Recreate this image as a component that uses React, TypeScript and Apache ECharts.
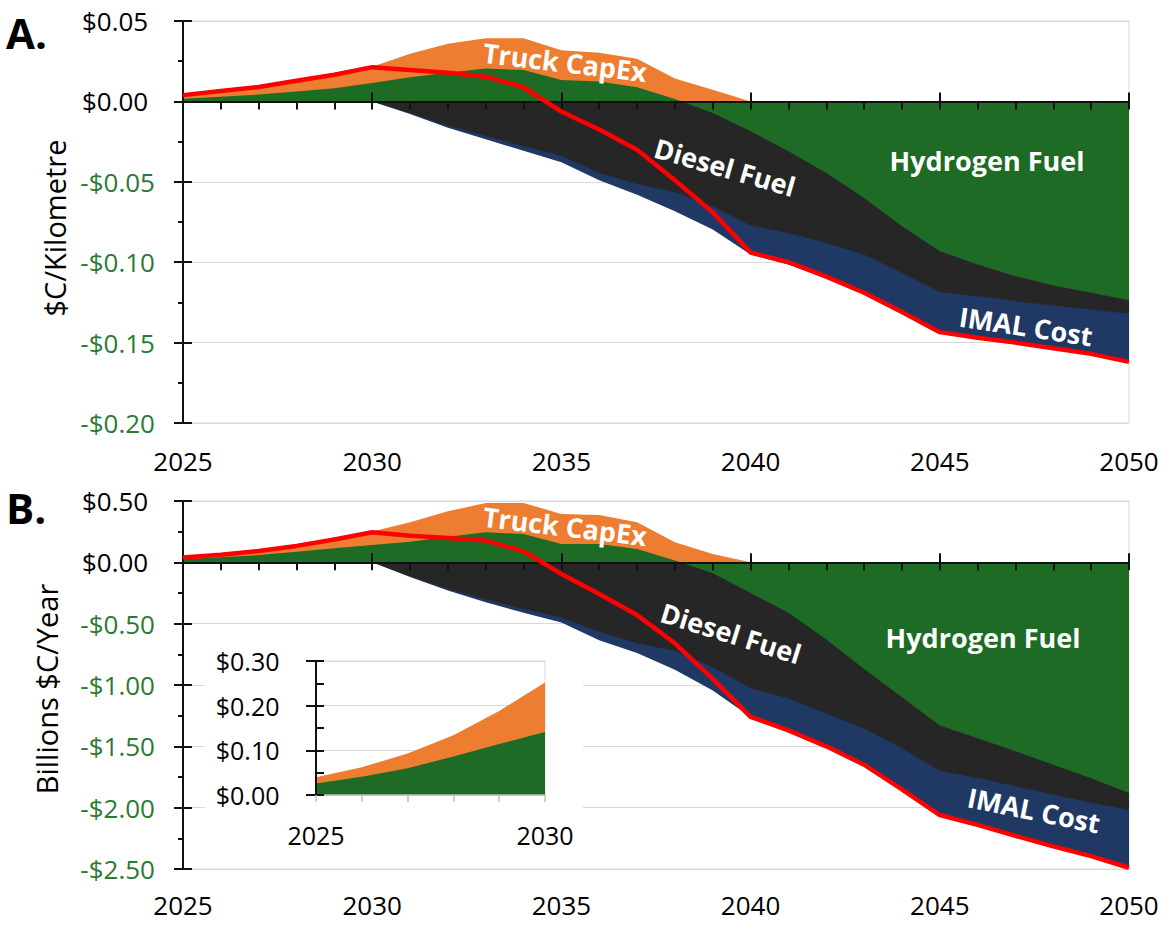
import React, { useEffect, useRef } from "react";
import * as echarts from "echarts";

// ---------- data ----------
const years = [2025, 2026, 2027, 2028, 2029, 2030, 2031, 2032, 2033, 2034, 2035, 2036, 2037, 2038, 2039, 2040, 2041, 2042, 2043, 2044, 2045, 2046, 2047, 2048, 2049, 2050];

// Panel A ($C/Kilometre) — band edges as seen in the chart
const capexA = [0.0039, 0.0064, 0.009, 0.0129, 0.0166, 0.0216, 0.0297, 0.0359, 0.0393, 0.0393, 0.0318, 0.0303, 0.0266, 0.0143, 0.0072, 0, 0, 0, 0, 0, 0, 0, 0, 0, 0, 0];
const hydrogenA = [0.0016, 0.0029, 0.0043, 0.0061, 0.0082, 0.0114, 0.015, 0.0178, 0.0205, 0.0195, 0.0133, 0.0123, 0.0088, 0.0015, -0.0072, -0.0186, -0.031, -0.0445, -0.06, -0.0776, -0.0932, -0.1014, -0.1087, -0.1145, -0.119, -0.1236];
const dieselA = [0, 0, 0, 0, 0, 0, -0.0072, -0.015, -0.0215, -0.0277, -0.0338, -0.0445, -0.0513, -0.0565, -0.0652, -0.0772, -0.0818, -0.088, -0.0952, -0.1066, -0.1186, -0.1211, -0.1242, -0.1269, -0.1294, -0.132];
const imalA = [0, 0, 0, 0, 0, 0, -0.0078, -0.0164, -0.0236, -0.0307, -0.0379, -0.049, -0.058, -0.0683, -0.0797, -0.0952, -0.1014, -0.11, -0.12, -0.1315, -0.1439, -0.148, -0.151, -0.1542, -0.1574, -0.1615];
const netA = [0.0039, 0.0064, 0.009, 0.0129, 0.0166, 0.0213, 0.0195, 0.0178, 0.0154, 0.0088, -0.0063, -0.0175, -0.03, -0.049, -0.069, -0.094, -0.1, -0.109, -0.119, -0.131, -0.1435, -0.147, -0.15, -0.1535, -0.157, -0.162];

// Panel B (Billions $C/Year)
const capexB = [0.04, 0.062, 0.093, 0.134, 0.188, 0.252, 0.326, 0.416, 0.484, 0.484, 0.394, 0.386, 0.326, 0.163, 0.068, 0, 0, 0, 0, 0, 0, 0, 0, 0, 0, 0];
const hydrogenB = [0.026, 0.041, 0.06, 0.086, 0.114, 0.141, 0.168, 0.209, 0.245, 0.231, 0.149, 0.149, 0.109, 0.014, -0.089, -0.25, -0.41, -0.63, -0.87, -1.1, -1.33, -1.435, -1.54, -1.65, -1.76, -1.88];
const dieselB = [0, 0, 0, 0, 0, 0, -0.114, -0.217, -0.3, -0.38, -0.45, -0.565, -0.66, -0.72, -0.856, -1.026, -1.11, -1.233, -1.354, -1.516, -1.7, -1.758, -1.826, -1.893, -1.96, -2.02];
const imalB = [0, 0, 0, 0, 0, 0, -0.12, -0.23, -0.326, -0.41, -0.49, -0.635, -0.74, -0.875, -1.045, -1.26, -1.368, -1.5, -1.65, -1.85, -2.054, -2.135, -2.224, -2.31, -2.39, -2.48];
const netB = [0.04, 0.062, 0.093, 0.134, 0.186, 0.245, 0.217, 0.198, 0.177, 0.09, -0.095, -0.258, -0.43, -0.66, -0.95, -1.26, -1.37, -1.5, -1.65, -1.85, -2.06, -2.14, -2.23, -2.315, -2.395, -2.49];

// Inset (first years of panel B)
const insetYears = years.slice(0, 6);
const insetCapex = capexB.slice(0, 6);
const insetHydrogen = hydrogenB.slice(0, 6);

// ---------- styling ----------
const COL = {
  orange: "#ED7D31",
  green: "#1D6B25",
  black: "#262626",
  navy: "#1F3864",
  red: "#FF0000",
  grid: "#D9D9D9",
  negLabel: "#2B7A34",
  axis: "#111111",
};
const FONT = '"Open Sans", "Noto Sans", sans-serif';

const pairs = (xs: number[], vs: number[]) => xs.map((x, i) => [x, vs[i]]);
const fmtMoney = (v: any) => {
  const n = Number(v);
  return n < -1e-9 ? "-$" + Math.abs(n).toFixed(2) : "$" + Math.abs(n).toFixed(2) + "\u00a0";
};
const labColor = (v: any) => (Number(v) < -1e-9 ? COL.negLabel : "#000000");

function area(name: string, xs: number[], vs: number[], color: string, xi: number, yi: number, z = 2) {
  return {
    type: "line",
    name,
    xAxisIndex: xi,
    yAxisIndex: yi,
    data: pairs(xs, vs),
    symbol: "none",
    showSymbol: false,
    lineStyle: { width: 0, opacity: 0 },
    areaStyle: { color, opacity: 1, origin: 0 },
    z,
    silent: true,
  };
}

function netLine(xs: number[], vs: number[], xi: number, yi: number) {
  return {
    type: "line",
    name: "Net",
    xAxisIndex: xi,
    yAxisIndex: yi,
    data: pairs(xs, vs),
    symbol: "none",
    showSymbol: false,
    lineStyle: { color: COL.red, width: 4.5, join: "round" },
    z: 6,
    silent: true,
  };
}

function panelAxes(gridMain: number, gridAux: number, yMin: number, yMax: number, yStep: number, labelMargin: number) {
  const xs = [
    {
      gridIndex: gridMain, type: "value", min: 2025, max: 2050, interval: 5, position: "bottom",
      axisLine: { show: false, onZero: false },
      axisTick: { show: false },
      splitLine: { show: false },
      axisLabel: { fontSize: 26, fontFamily: FONT, color: "#000", margin: labelMargin, formatter: (v: number) => String(v) },
    },
    {
      gridIndex: gridMain, type: "value", min: 2025, max: 2050, interval: 5, position: "top",
      axisLine: { show: true, onZero: true, lineStyle: { color: COL.axis, width: 2 } },
      axisTick: { show: true, length: 9, lineStyle: { color: COL.axis, width: 2 } },
      splitLine: { show: false },
      axisLabel: { show: false },
      z: 4,
    },
    {
      gridIndex: gridAux, type: "value", min: 2025, max: 2050, interval: 1, position: "bottom",
      axisLine: { show: true, onZero: true, lineStyle: { color: COL.axis, width: 2 } },
      axisTick: { show: true, length: 8, lineStyle: { color: COL.axis, width: 2 } },
      splitLine: { show: false },
      axisLabel: { show: false },
      z: 4,
    },
  ];
  const ys = [
    {
      gridIndex: gridMain, type: "value", min: yMin, max: yMax, interval: yStep,
      axisLine: { show: false, onZero: false },
      axisTick: { show: true, length: 9, lineStyle: { color: COL.axis, width: 2 } },
      minorTick: { show: true, splitNumber: 2, length: 5, lineStyle: { color: COL.axis, width: 2 } },
      splitLine: { show: true, lineStyle: { color: COL.grid, width: 1 } },
      axisLabel: { fontSize: 26, fontFamily: FONT, margin: 28, formatter: fmtMoney, color: labColor },
    },
    {
      gridIndex: gridAux, type: "value", min: yMin, max: yMax, interval: yStep,
      axisLine: { show: true, onZero: false, lineStyle: { color: COL.axis, width: 2 } },
      axisTick: { show: true, inside: true, length: 9, lineStyle: { color: COL.axis, width: 2 } },
      splitLine: { show: false },
      axisLabel: { show: false },
      z: 4,
    },
  ];
  return { xs, ys };
}

function label(text: string, x: number, y: number, rot = 0, size = 27) {
  return {
    type: "text",
    x,
    y,
    rotation: rot,
    z: 30,
    silent: true,
    style: {
      text,
      x: 0,
      y: 0,
      fill: "#FFFFFF",
      font: `bold ${size}px ${FONT}`,
      align: "center",
      verticalAlign: "middle",
      textAlign: "center",
      textVerticalAlign: "middle",
    },
  };
}

function plainText(text: string, x: number, y: number, font: string, rot = 0, align = "center") {
  return {
    type: "text",
    x,
    y,
    rotation: rot,
    z: 30,
    silent: true,
    style: {
      text, x: 0, y: 0, fill: "#000000", font,
      align, verticalAlign: "middle", textAlign: align, textVerticalAlign: "middle",
    },
  };
}

export default function App() {
  const ref = useRef<HTMLDivElement>(null);

  useEffect(() => {
    if (!ref.current) return;
    const chart = echarts.init(ref.current, undefined, { renderer: "svg" });

    const gA = { left: 183, top: 21, width: 946, height: 402 };
    const gB = { left: 183, top: 501, width: 946, height: 368 };
    const gC = { left: 316, top: 661, width: 229, height: 134 };

    const pa = panelAxes(0, 1, -0.2, 0.05, 0.05, 25);
    const pb = panelAxes(2, 3, -2.5, 0.5, 0.5, 23);

    const insetX = [
      {
        gridIndex: 4, type: "value", min: 2025, max: 2030, interval: 5, position: "bottom",
        axisLine: { show: true, onZero: false, lineStyle: { color: "#BFBFBF", width: 1.5 } },
        axisTick: { show: true, length: 7, lineStyle: { color: "#BFBFBF", width: 1.5 } },
        minorTick: { show: true, splitNumber: 5, length: 7, lineStyle: { color: "#BFBFBF", width: 1.5 } },
        splitLine: { show: false },
        axisLabel: { fontSize: 25, fontFamily: FONT, color: "#000", margin: 27, formatter: (v: number) => String(v) },
        z: 22,
      },
      { gridIndex: 5, type: "value", min: 2025, max: 2030, show: false },
    ];
    const insetY = [
      {
        gridIndex: 4, type: "value", min: 0, max: 0.3, interval: 0.1,
        axisLine: { show: true, onZero: false, lineStyle: { color: COL.axis, width: 2 } },
        axisTick: { show: true, length: 10, lineStyle: { color: COL.axis, width: 2 } },
        splitLine: { show: true, lineStyle: { color: COL.grid, width: 1 } },
        axisLabel: { fontSize: 25, fontFamily: FONT, margin: 30, formatter: fmtMoney, color: "#000" },
        z: 22,
      },
      {
        gridIndex: 5, type: "value", min: 0, max: 0.3, interval: 0.05,
        axisLine: { show: false },
        axisTick: { show: true, inside: true, length: 8, lineStyle: { color: COL.axis, width: 2 } },
        splitLine: { show: false },
        axisLabel: { show: false },
        z: 22,
      },
    ];

    const option: any = {
      animation: false,
      backgroundColor: "#FFFFFF",
      textStyle: { fontFamily: FONT },
      grid: [
        { ...gA, show: true, borderColor: COL.grid, borderWidth: 1, backgroundColor: "transparent" },
        { ...gA },
        { ...gB, show: true, borderColor: COL.grid, borderWidth: 1, backgroundColor: "transparent" },
        { ...gB },
        { ...gC, show: true, borderColor: COL.grid, borderWidth: 1, backgroundColor: "transparent", z: 21 },
        { ...gC, z: 21 },
      ],
      xAxis: [...pa.xs, ...pb.xs, ...insetX],
      yAxis: [...pa.ys, ...pb.ys, ...insetY],
      series: [
        // panel A
        area("IMAL Cost", years, imalA, COL.navy, 0, 0),
        area("Truck CapEx", years, capexA, COL.orange, 0, 0),
        area("Diesel Fuel", years, dieselA, COL.black, 0, 0),
        area("Hydrogen Fuel", years, hydrogenA, COL.green, 0, 0),
        netLine(years, netA, 0, 0),
        // panel B
        area("IMAL Cost", years, imalB, COL.navy, 3, 2),
        area("Truck CapEx", years, capexB, COL.orange, 3, 2),
        area("Diesel Fuel", years, dieselB, COL.black, 3, 2),
        area("Hydrogen Fuel", years, hydrogenB, COL.green, 3, 2),
        netLine(years, netB, 3, 2),
        // inset
        area("Truck CapEx", insetYears, insetCapex, COL.orange, 6, 4, 22),
        area("Hydrogen Fuel", insetYears, insetHydrogen, COL.green, 6, 4, 22),
      ],
      graphic: [
        { type: "rect", z: 20, silent: true, shape: { x: 205, y: 645, width: 378, height: 212 }, style: { fill: "#FFFFFF" } },
        plainText("A.", 6, 32, `bold 42px ${FONT}`, 0, "left"),
        plainText("B.", 6, 507, `bold 42px ${FONT}`, 0, "left"),
        plainText("$C/Kilometre", 54, 228, `29px ${FONT}`, Math.PI / 2),
        plainText("Billions $C/Year", 46, 689, `29px ${FONT}`, Math.PI / 2),
        label("Truck CapEx", 565, 62, -0.12),
        label("Diesel Fuel", 725, 167, -0.28),
        label("Hydrogen Fuel", 987, 160, 0),
        label("IMAL Cost", 1026, 326, -0.15),
        label("Truck CapEx", 565, 526, -0.12),
        label("Diesel Fuel", 731, 633, -0.3),
        label("Hydrogen Fuel", 983, 637, 0),
        label("IMAL Cost", 1034, 810, -0.2),
      ],
    };

    chart.setOption(option);
    return () => chart.dispose();
  }, []);

  return (
    <div
      ref={ref}
      style={{ position: "fixed", left: 0, top: 0, width: 1166, height: 925, background: "#FFFFFF" }}
    />
  );
}
